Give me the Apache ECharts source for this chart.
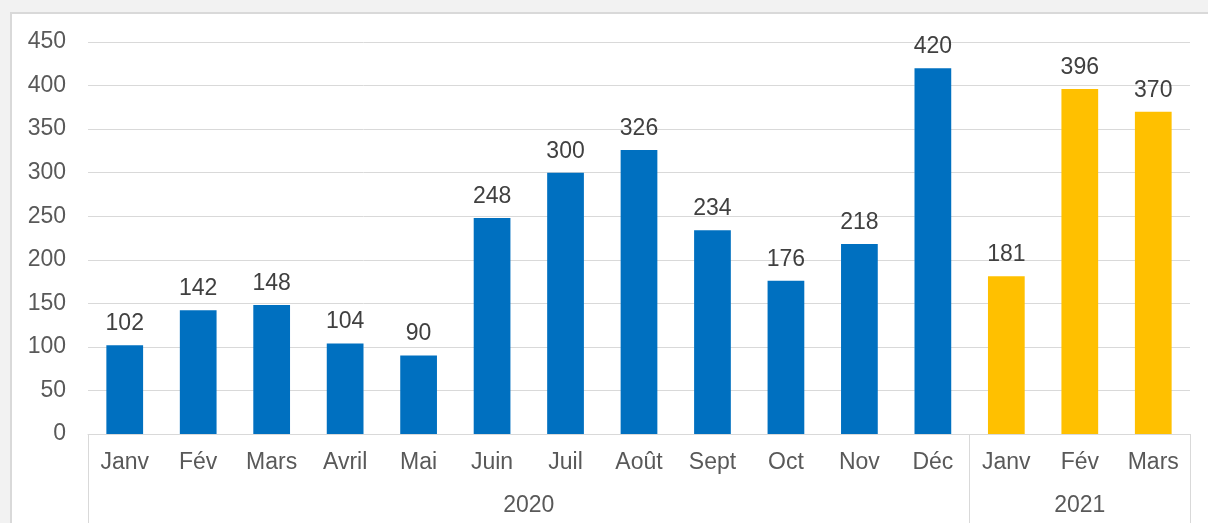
<!DOCTYPE html>
<html>
<head>
<meta charset="utf-8">
<script src="https://cdn.jsdelivr.net/npm/echarts@6/dist/echarts.min.js"></script>
<style>
  html, body { margin: 0; padding: 0; background: #f2f2f2; overflow: hidden; }
  #frame { position: absolute; left: 10px; top: 12px; width: 1230px; height: 540px;
           background: #fff; border: 2px solid #d9d9d9; }
  #main { position: absolute; left: 0; top: 0; width: 1208px; height: 523px; }
</style>
</head>
<body>
<div id="frame"></div>
<div id="main"></div>
<script>
const months = ['Janv', 'Fév', 'Mars', 'Avril', 'Mai', 'Juin', 'Juil', 'Août', 'Sept', 'Oct', 'Nov', 'Déc', 'Janv', 'Fév', 'Mars'];
const values = [102, 142, 148, 104, 90, 248, 300, 326, 234, 176, 218, 420, 181, 396, 370];
const years = ['2020', '2021'];
const yearStarts = [0, 12];   // first month index of each year
const yearEnds = [12, 15];
const yTicks = [0, 50, 100, 150, 200, 250, 300, 350, 400, 450];

const blue = '#0070C0';
const gold = '#FFC000';

const chart = echarts.init(document.getElementById('main'), null, { renderer: 'canvas' });

const font = 'Liberation Sans, Arial, sans-serif';
const fs = 23;

chart.setOption({
  backgroundColor: 'transparent',
  animation: false,
  textStyle: { fontFamily: font },
  grid: { left: 88, right: 18, top: 42, bottom: 89 },
  xAxis: [
    {
      type: 'category',
      data: months,
      axisLine: { lineStyle: { color: '#d9d9d9', width: 1 } },
      axisTick: { show: false },
      axisLabel: { color: '#595959', fontSize: fs, margin: 17, interval: 0, fontFamily: font }
    },
    {
      // year grouping row
      type: 'value',
      min: 0,
      max: 15,
      position: 'bottom',
      axisLine: { show: false },
      splitLine: { show: false },
      axisTick: {
        show: true,
        customValues: [0].concat(yearEnds),
        length: 92,
        lineStyle: { color: '#d9d9d9', width: 1 }
      },
      axisLabel: {
        customValues: yearStarts.map((s, i) => (s + yearEnds[i]) / 2),
        formatter: function (v) {
          const i = yearStarts.findIndex((s, k) => v > s && v < yearEnds[k]);
          return i >= 0 ? years[i] : '';
        },
        color: '#595959', fontSize: fs, margin: 60, fontFamily: font
      }
    }
  ],
  yAxis: {
    type: 'value',
    min: 0,
    max: yTicks[yTicks.length - 1],
    interval: 50,
    axisLine: { show: false },
    axisTick: { show: false },
    axisLabel: { color: '#595959', fontSize: fs, margin: 22, fontFamily: font },
    splitLine: { lineStyle: { color: '#d9d9d9', width: 1 } }
  },
  series: [
    {
      type: 'bar',
      xAxisIndex: 0,
      barWidth: '50%',
      data: values.map((v, i) => ({
        value: v,
        itemStyle: { color: i < yearEnds[0] ? blue : gold }
      })),
      label: {
        show: true,
        position: 'top',
        distance: 10,
        color: '#404040',
        fontSize: fs,
        fontFamily: font
      }
    }
  ]
});
</script>
</body>
</html>
